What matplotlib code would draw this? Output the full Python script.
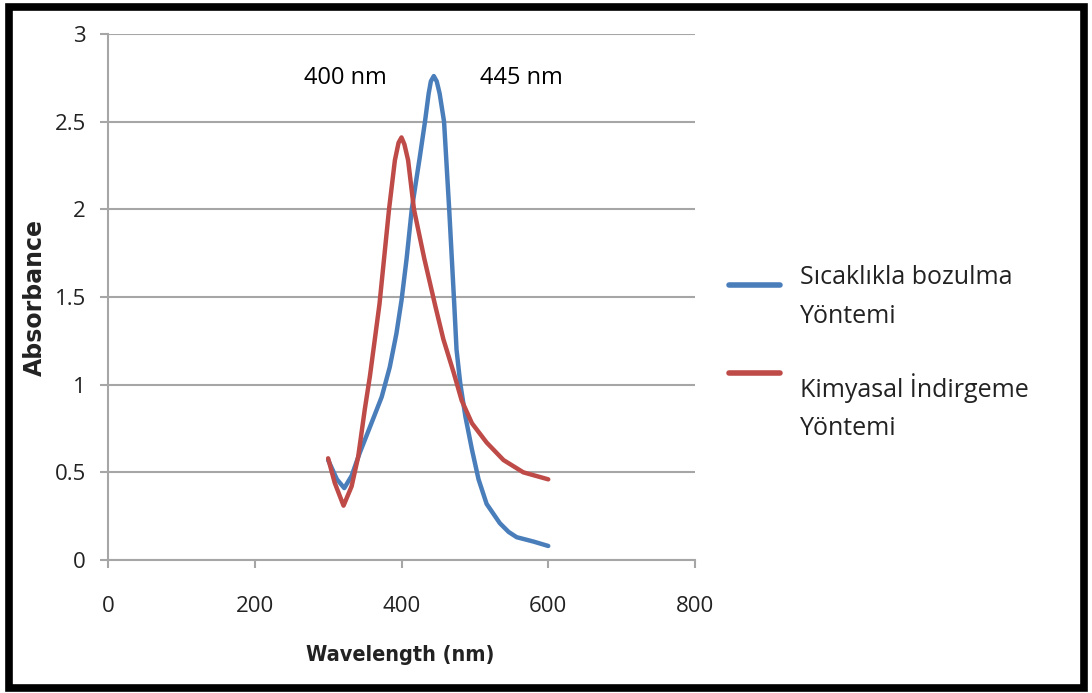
import matplotlib.pyplot as plt
from matplotlib.lines import Line2D
from matplotlib.patches import Rectangle

# absorbance spectra
thermal_wl = [300, 312, 322, 332, 343, 359, 373, 384, 393, 400, 407, 414, 425, 432, 437,
              440, 444, 448, 452, 458, 465, 472, 475, 480, 487, 496, 505, 516, 534,
              546, 557, 580, 600]
thermal_abs = [0.57, 0.46, 0.41, 0.48, 0.61, 0.78, 0.93, 1.10, 1.29, 1.48, 1.72, 2.00, 2.30,
               2.50, 2.66, 2.73, 2.76, 2.73, 2.66, 2.50, 2.00, 1.45, 1.20, 1.01, 0.82,
               0.63, 0.46, 0.32, 0.21, 0.16, 0.13, 0.105, 0.08]

chem_wl = [300, 309, 321, 332, 341, 350, 357, 364, 370, 383, 391, 396, 400, 404, 409,
           417, 431, 446, 457, 471, 482, 496, 516, 539, 566, 600]
chem_abs = [0.58, 0.44, 0.31, 0.42, 0.59, 0.86, 1.05, 1.27, 1.46, 2.00, 2.28, 2.38,
            2.41, 2.37, 2.28, 2.00, 1.72, 1.45, 1.26, 1.07, 0.91, 0.78, 0.67, 0.57,
            0.50, 0.46]

series_labels = ["Sıcaklıkla bozulma\nYöntemi", "Kimyasal İndirgeme\nYöntemi"]
peak_labels = ["400 nm", "445 nm"]
x_ticks = [0, 200, 400, 600, 800]
y_ticks = [0, 0.5, 1, 1.5, 2, 2.5, 3]
y_tick_labels = ["0", "0.5", "1", "1.5", "2", "2.5", "3"]

BLUE = "#4a7ebb"
RED = "#be4b48"
GRID = "#a6a6a6"
W, H = 1092, 693


def fx(px):
    return px / W


def fy(py):
    return 1 - py / H


plt.rcParams["font.family"] = ["Open Sans", "DejaVu Sans"]

fig = plt.figure(figsize=(W / 100, H / 100), dpi=100)
ax = fig.add_axes([fx(108), fy(560), fx(695 - 108), (560 - 34) / H])

ax.plot(thermal_wl, thermal_abs, color=BLUE, lw=3.2, solid_capstyle="round",
        solid_joinstyle="round")
ax.plot(chem_wl, chem_abs, color=RED, lw=3.2, solid_capstyle="round",
        solid_joinstyle="round")

ax.set_xlim(0, 800)
ax.set_ylim(0, 3)
ax.set_xticks(x_ticks)
ax.set_yticks(y_ticks)
ax.set_yticklabels(y_tick_labels)
ax.yaxis.grid(True, color=GRID, lw=1.5)
ax.set_axisbelow(True)
for side in ["top", "right"]:
    ax.spines[side].set_visible(False)
for side in ["left", "bottom"]:
    ax.spines[side].set_color(GRID)
    ax.spines[side].set_linewidth(1.5)
ax.tick_params(axis="both", colors=GRID, length=6, width=1.5, labelsize=16,
               labelcolor="#222222")
ax.tick_params(axis="x", pad=20)
ax.tick_params(axis="y", pad=10)

fig.text(fx(400), fy(655), "Wavelength (nm)", fontsize=15.5, fontweight="bold",
         family="DejaVu Sans", fontstretch="condensed", ha="center", va="center",
         color="#222222")
fig.text(fx(35), fy(298), "Absorbance", fontsize=17, fontweight="bold",
         family="DejaVu Sans", rotation=90, ha="center", va="center",
         color="#222222")

ax.text(324, 2.75, peak_labels[0], fontsize=17, ha="center", va="center")
ax.text(563, 2.75, peak_labels[1], fontsize=17, ha="center", va="center")

# legend drawn by hand: handle sits level with the first text line
legend_rows = [(BLUE, 285, 297), (RED, 373, 407)]
for label, (color, handle_y, text_y) in zip(series_labels, legend_rows):
    fig.add_artist(Line2D([fx(729), fx(780)], [fy(handle_y), fy(handle_y)],
                          color=color, lw=4, solid_capstyle="round"))
    fig.text(fx(800), fy(text_y), label, fontsize=18, ha="left", va="center",
             linespacing=1.7, color="#222222")

fig.patches.append(Rectangle((fx(9), 1 - 688 / H), fx(1075), 681 / H,
                             transform=fig.transFigure, fill=False,
                             edgecolor="black", lw=5.5))

fig.savefig("out.png", dpi=100)
